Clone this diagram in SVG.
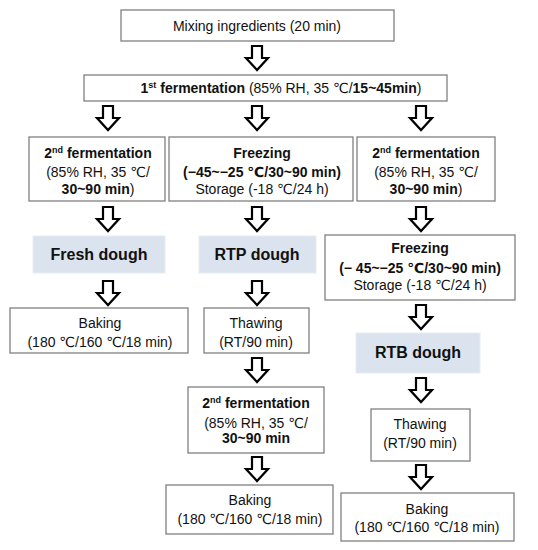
<svg xmlns="http://www.w3.org/2000/svg" xmlns:xlink="http://www.w3.org/1999/xlink" width="538" height="550" viewBox="0 0 538 550">
<style>
.box{fill:#fff;stroke:#808080;stroke-width:1.3}
.hl{fill:#dbe3ee;stroke:#e8edf3;stroke-width:1}
text{font-family:"Liberation Sans",Arial,"DejaVu Sans",sans-serif;font-size:14px;fill:#111;text-anchor:middle}
.b{font-weight:bold}
.big{font-size:16px;font-weight:bold}
.arr{fill:#fff;stroke:#000;stroke-width:2.2;stroke-linejoin:miter}
.sup{font-size:9px}
</style>
<defs>
<path id="arrow" class="arr" d="M-5,0 H5 V12 H11 L0,24 L-11,12 H-5 Z"/>
</defs>
<rect width="538" height="550" fill="#fff"/>
<g id="connectors">
<use xlink:href="#arrow" x="257" y="46"/>
<use xlink:href="#arrow" x="108" y="106"/>
<use xlink:href="#arrow" x="257" y="106"/>
<use xlink:href="#arrow" x="421" y="106"/>
<use xlink:href="#arrow" x="108" y="207"/>
<use xlink:href="#arrow" x="257" y="207"/>
<use xlink:href="#arrow" x="421" y="207"/>
<use xlink:href="#arrow" x="108" y="281"/>
<use xlink:href="#arrow" x="257" y="281"/>
<use xlink:href="#arrow" x="421" y="305"/>
<use xlink:href="#arrow" x="257" y="358"/>
<use xlink:href="#arrow" x="421" y="378"/>
<use xlink:href="#arrow" x="257" y="457"/>
<use xlink:href="#arrow" x="421" y="465"/>
</g>
<g id="mixing">
<rect class="box" x="121" y="10" width="273" height="31"/>
<text x="257" y="31">Mixing ingredients (20 min)</text>
</g>
<g id="ferm1">
<rect class="box" x="84" y="75" width="363" height="26"/>
<text x="281" y="93"><tspan class="b">1</tspan><tspan class="b sup" dy="-5">st</tspan><tspan class="b" dy="5"> fermentation</tspan> (85% RH, 35 ℃/<tspan class="b">15~45min</tspan>)</text>
</g>
<g id="ferm2-left">
<rect class="box" x="29" y="137" width="136" height="64"/>
<text x="98" y="158"><tspan class="b">2</tspan><tspan class="b sup" dy="-5">nd</tspan><tspan class="b" dy="5"> fermentation</tspan></text>
<text x="98" y="177">(85% RH, 35 ℃/</text>
<text x="98" y="194"><tspan class="b">30~90 min</tspan>)</text>
</g>
<g id="freezing-mid">
<rect class="box" x="169" y="137" width="184" height="64"/>
<text x="262" y="158" class="b">Freezing</text>
<text x="262" y="177" class="b">(−45~−25 ℃/30~90 min)</text>
<text x="262" y="194">Storage (-18 ℃/24 h)</text>
</g>
<g id="ferm2-right">
<rect class="box" x="357" y="137" width="138" height="64"/>
<text x="426" y="158"><tspan class="b">2</tspan><tspan class="b sup" dy="-5">nd</tspan><tspan class="b" dy="5"> fermentation</tspan></text>
<text x="426" y="177">(85% RH, 35 ℃/</text>
<text x="426" y="194"><tspan class="b">30~90 min</tspan>)</text>
</g>
<g id="fresh-dough">
<rect class="hl" x="33" y="236" width="132" height="37"/>
<text x="99" y="260" class="big">Fresh dough</text>
</g>
<g id="rtp-dough">
<rect class="hl" x="199" y="236" width="117" height="37"/>
<text x="257" y="260" class="big">RTP dough</text>
</g>
<g id="freezing-right">
<rect class="box" x="325" y="235" width="190" height="65"/>
<text x="420" y="253" class="b">Freezing</text>
<text x="420" y="273" class="b">(− 45~−25 ℃/30~90 min)</text>
<text x="420" y="290">Storage (-18 ℃/24 h)</text>
</g>
<g id="baking-left">
<rect class="box" x="10" y="308" width="178" height="45"/>
<text x="100" y="328">Baking</text>
<text x="100" y="347">(180 ℃/160 ℃/18 min)</text>
</g>
<g id="thawing-mid">
<rect class="box" x="204" y="308" width="105" height="45"/>
<text x="256" y="328">Thawing</text>
<text x="256" y="347">(RT/90 min)</text>
</g>
<g id="rtb-dough">
<rect class="hl" x="356" y="333" width="124" height="40"/>
<text x="418" y="358" class="big">RTB dough</text>
</g>
<g id="ferm2-mid">
<rect class="box" x="188" y="387" width="136" height="66"/>
<text x="256" y="408"><tspan class="b">2</tspan><tspan class="b sup" dy="-5">nd</tspan><tspan class="b" dy="5"> fermentation</tspan></text>
<text x="256" y="428">(85% RH, 35 ℃/</text>
<text x="256" y="443" class="b">30~90 min</text>
</g>
<g id="thawing-right">
<rect class="box" x="371" y="409" width="99" height="52"/>
<text x="420" y="429">Thawing</text>
<text x="420" y="448">(RT/90 min)</text>
</g>
<g id="baking-mid">
<rect class="box" x="166" y="485" width="167" height="49"/>
<text x="250" y="505">Baking</text>
<text x="250" y="524">(180 ℃/160 ℃/18 min)</text>
</g>
<g id="baking-right">
<rect class="box" x="341" y="493" width="173" height="48"/>
<text x="427" y="514">Baking</text>
<text x="427" y="532">(180 ℃/160 ℃/18 min)</text>
</g>
</svg>
